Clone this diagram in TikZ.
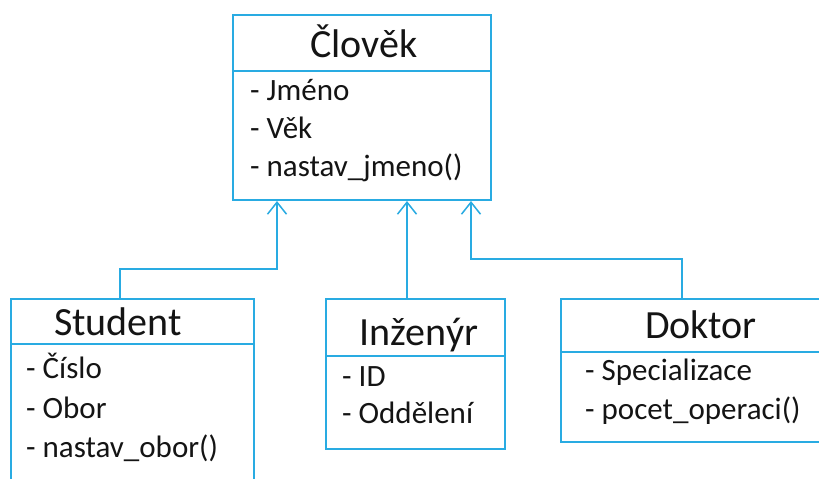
\documentclass[tikz,border=0pt]{standalone}
\usepackage{fontspec}
\setmainfont{Carlito}
\usetikzlibrary{arrows.meta,calc}
\definecolor{umlblue}{RGB}{41,171,226}
\definecolor{umltext}{RGB}{20,20,20}
\begin{document}
\begin{tikzpicture}[x=1pt,y=-1pt,
  classbox/.style={draw=umlblue,line width=2pt,rectangle,inner sep=0pt},
  divider/.style={draw=umlblue,line width=2pt},
  title/.style={inner sep=0pt,anchor=base,text=umltext,font=\fontsize{40}{48}\selectfont},
  attr/.style={inner sep=0pt,anchor=base west,text=umltext,font=\fontsize{31}{38}\selectfont},
  inh/.style={draw=umlblue,line width=2pt,-{Straight Barb[length=12pt,width=19pt,line width=1.5pt]}}
]
\useasboundingbox (0,0) rectangle (819,479);
\clip (0,0) rectangle (819,479);
\fill[white] (0,0) rectangle (819,479);

% boxes
\node[classbox,minimum width=258pt,minimum height=185pt] (clo) at (362,107.5) {};
\node[classbox,minimum width=243pt,minimum height=220pt] (stu) at (132.5,409) {};
\node[classbox,minimum width=179pt,minimum height=150pt] (inz) at (415.5,374) {};
\node[classbox,minimum width=269pt,minimum height=143pt] (dok) at (695.5,370.5) {};

% dividers
\coordinate (cdiv) at (0,71);
\coordinate (sdiv) at (0,344);
\coordinate (idiv) at (0,356);
\coordinate (ddiv) at (0,352);
\draw[divider] (clo.west |- cdiv) -- (clo.east |- cdiv);
\draw[divider] (stu.west |- sdiv) -- (stu.east |- sdiv);
\draw[divider] (inz.west |- idiv) -- (inz.east |- idiv);
\draw[divider] (dok.west |- ddiv) -- (dok.east |- ddiv);

% titles
\node[title] (tclo) at (364,57) {Člověk};
\node[title] (tstu) at (118,335) {Student};
\node[title] (tinz) at (419,345) {Inženýr};
\node[title] (tdok) at (701,338) {Doktor};

% attributes
\node[attr] (a1) at (250,100) {- Jméno};
\node[attr] (a2) at (250,138) {- Věk};
\node[attr] (a3) at (250,176) {- nastav\_jmeno()};
\node[attr] (s1t) at (26,378) {- Číslo};
\node[attr] (s2t) at (26,418) {- Obor};
\node[attr] (s3t) at (26,457) {- nastav\_obor()};
\node[attr] (i1t) at (342,386) {- ID};
\node[attr] (i2t) at (342,423) {- Oddělení};
\node[attr] (d1t) at (585,380) {- Specializace};
\node[attr] (d2t) at (585,419) {- pocet\_operaci()};

% connectors
\coordinate (c1) at ($(clo.south)+(-85,0)$);
\coordinate (c2) at ($(clo.south)+(45,0)$);
\coordinate (c3) at ($(clo.south)+(109,0)$);
\coordinate (s1) at ($(stu.north)+(-12.5,0)$);
\coordinate (i1) at ($(inz.north)+(-8.5,0)$);
\coordinate (d1) at ($(dok.north)+(-13.5,0)$);
\draw[inh] (s1) -- ++(0,-29) -| (c1);
\draw[inh] (i1) -- (c2);
\draw[inh] (d1) -- ++(0,-39) -| (c3);
\end{tikzpicture}
\end{document}
